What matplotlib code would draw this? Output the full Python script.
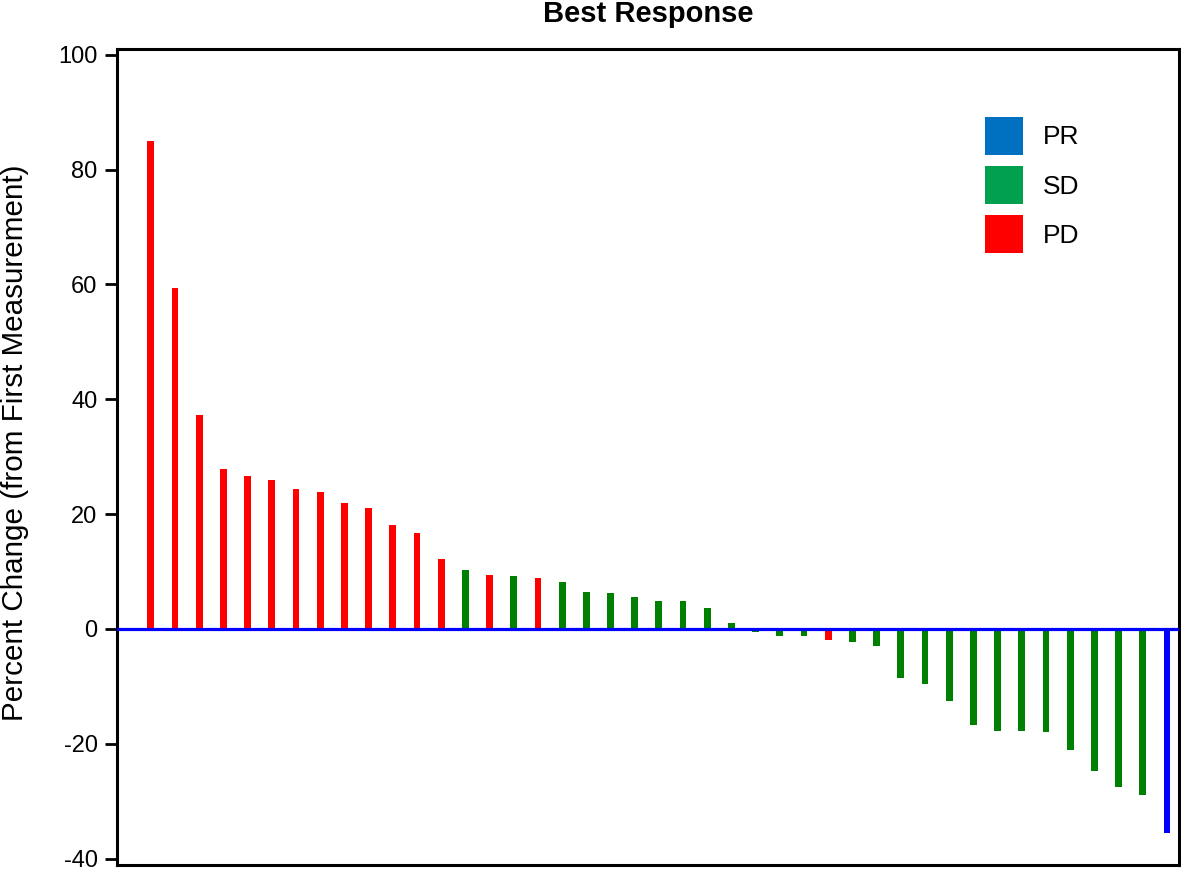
import matplotlib
matplotlib.use("Agg")
import matplotlib.pyplot as plt
from matplotlib.patches import Patch

plt.rcParams['font.family'] = ['Liberation Sans', 'DejaVu Sans']
plt.rcParams['axes.unicode_minus'] = False

# best response per patient, sorted as in the waterfall
change = [84.9, 59.3, 37.2, 27.9, 26.6, 26.0, 24.3, 23.8, 21.9, 21.0,
          18.1, 16.8, 12.2, 10.3, 9.4, 9.2, 8.8, 8.1, 6.4, 6.2,
          5.6, 4.9, 4.8, 3.6, 1.0, -0.5, -1.3, -1.3, -2.0, -2.2,
          -2.9, -8.5, -9.5, -12.5, -16.8, -17.7, -17.7, -17.9, -21.1, -24.8,
          -27.5, -28.9, -35.5]
response = ['PD'] * 13 + ['SD', 'PD', 'SD', 'PD'] + ['SD'] * 11 + ['PD'] + ['SD'] * 13 + ['PR']

bar_colors = {'PR': '#0000FF', 'SD': '#008000', 'PD': '#FF0000'}
legend_labels = ['PR', 'SD', 'PD']
legend_colors = ['#0070C0', '#00A04F', '#FF0000']

fig = plt.figure(figsize=(11.81, 8.69), dpi=100)
ax = fig.add_axes([117 / 1181, 4 / 869, 1062 / 1181, 816 / 869])

x = list(range(len(change)))
cols = [bar_colors[r] for r in response]
ax.bar(x, change, width=0.28, color=cols, zorder=2)
ax.axhline(0, color='#0000FF', lw=2.3, zorder=3)

ax.set_xlim(-1.4, 42.5)
ax.set_ylim(-41.1, 101)
ax.set_xticks([])
ax.set_yticks([-40, -20, 0, 20, 40, 60, 80, 100])
ax.tick_params(axis='y', direction='out', length=9, width=2, pad=5, labelsize=17)
for s in ax.spines.values():
    s.set_linewidth(2.2)

handles = [Patch(facecolor=c, edgecolor='none') for c in legend_colors]
ax.legend(handles, legend_labels, loc='upper left', bbox_to_anchor=(0.8173, 0.9167),
          frameon=False, fontsize=19, handlelength=1.44, handleheight=1.84,
          handletextpad=0.75, labelspacing=0.42, borderpad=0, borderaxespad=0)

fig.text(648 / 1181, 1 - 21.7 / 869, 'Best Response', ha='center', va='baseline',
         fontsize=21, fontweight='bold')
fig.text(15 / 1181, 1 - 443 / 869, 'Percent Change (from First Measurement)',
         rotation=90, ha='center', va='center', fontsize=21.3)

fig.savefig('out.png', dpi=100)
